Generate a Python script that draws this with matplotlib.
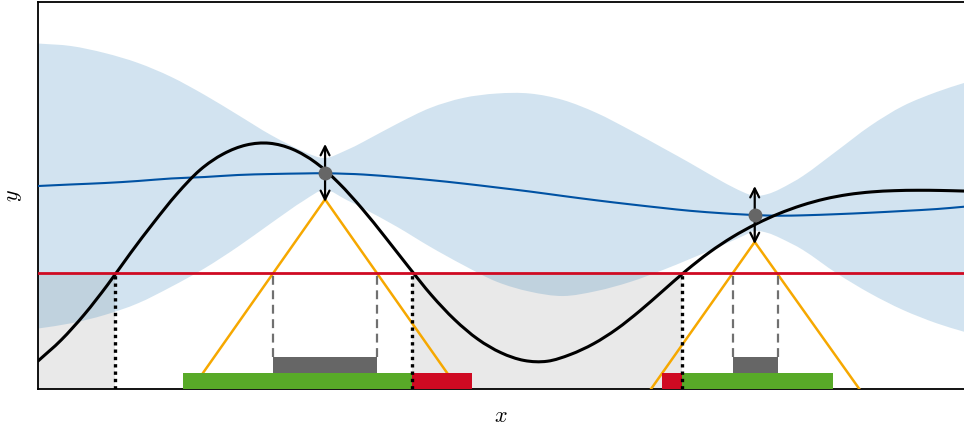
import matplotlib

matplotlib.use("Agg")
import matplotlib.pyplot as plt
from matplotlib.patches import PathPatch
from matplotlib.path import Path

plt.rcParams.update({"mathtext.fontset": "cm"})

BAND = "#1f77b4"
MEAN = "#0052a3"
TRUE = "black"
THR = "#cf0a22"
CONE = "#f6a800"
GOOD = "#58aa28"
BAD = "#cf0a22"
MID = "#666666"
SHADE = "#e9e9e9"

# true function f(x), read every 0.25
f_x = [0.0, 0.25, 0.5, 0.75, 1.0, 1.25, 1.5, 1.75, 2.0, 2.25, 2.5, 2.75, 3.0, 3.25, 3.5,
       3.75, 4.0, 4.25, 4.5, 4.75, 5.0, 5.25, 5.5, 5.75, 6.0, 6.25, 6.5, 6.75, 7.0, 7.25,
       7.5, 7.75, 8.0, 8.25, 8.5, 8.75, 9.0, 9.25, 9.5, 9.75, 10.0]
f_y = [0.289, 0.506, 0.770, 1.075, 1.406, 1.721, 2.016, 2.264, 2.429, 2.522, 2.540, 2.478,
       2.339, 2.127, 1.864, 1.569, 1.264, 0.969, 0.716, 0.515, 0.375, 0.295, 0.287, 0.357,
       0.468, 0.620, 0.808, 1.016, 1.224, 1.412, 1.571, 1.703, 1.812, 1.899, 1.965, 2.010,
       2.037, 2.050, 2.054, 2.052, 2.046]

# GP posterior: mean and band edges
gp_x = [0.000, 0.356, 0.720, 1.080, 1.440, 1.800, 2.160, 2.516, 2.880, 3.099, 3.334, 3.510,
        3.874, 4.233, 4.590, 4.953, 5.313, 5.670, 6.033, 6.393, 6.749, 7.041, 7.397, 7.613,
        7.743, 7.883, 8.013, 8.261, 8.625, 8.985, 9.341, 9.705, 10.0]
gp_mean = [2.098, 2.114, 2.129, 2.150, 2.176, 2.191, 2.212, 2.222, 2.228, 2.230, 2.224, 2.217,
           2.191, 2.160, 2.124, 2.083, 2.041, 1.995, 1.950, 1.909, 1.871, 1.842, 1.816, 1.804,
           1.798, 1.793, 1.791, 1.795, 1.807, 1.822, 1.840, 1.860, 1.884]
gp_upper = [3.571, 3.545, 3.473, 3.370, 3.225, 3.039, 2.832, 2.625, 2.450, 2.388, 2.470, 2.553,
            2.739, 2.904, 3.008, 3.054, 3.054, 2.987, 2.853, 2.677, 2.491, 2.336, 2.140, 2.036,
            1.995, 2.016, 2.067, 2.202, 2.460, 2.718, 2.925, 3.070, 3.163]
gp_lower = [0.625, 0.679, 0.765, 0.886, 1.057, 1.248, 1.471, 1.713, 1.953, 2.057, 1.953, 1.868,
            1.678, 1.471, 1.282, 1.109, 1.006, 0.961, 1.013, 1.106, 1.230, 1.344, 1.488, 1.581,
            1.633, 1.612, 1.561, 1.437, 1.196, 0.989, 0.817, 0.679, 0.592]

threshold = 1.2
crossings = [0.832, 4.039, 6.955]
below_spans = [(0.0, 0.832), (4.039, 6.955)]

# observations with noise arrows
obs_x = [3.10, 7.74]
obs_y = [2.233, 1.798]
noise = 0.30

# cones under each observation
cone_top = [1.96, 1.52]
cone_left = [1.66, 6.62]
cone_right = [4.54, 8.87]
gray_left = [2.54, 7.50]
gray_right = [3.66, 7.99]

# interval bars at the bottom: (start, end)
good_bars = [(1.566, 4.036), (6.955, 8.585)]
bad_bars = [(4.036, 4.687), (6.739, 6.955)]
bar_h = 0.165


def smooth(xs, ys, start=True):
    """Cubic Bezier segments through the points (Hermite tangents)."""
    n = len(xs)
    m = []
    for i in range(n):
        a, b = max(i - 1, 0), min(i + 1, n - 1)
        m.append((ys[b] - ys[a]) / (xs[b] - xs[a]))
    verts = [(xs[0], ys[0])]
    codes = [Path.MOVETO if start else Path.LINETO]
    for i in range(n - 1):
        h = xs[i + 1] - xs[i]
        verts += [(xs[i] + h / 3, ys[i] + m[i] * h / 3),
                  (xs[i + 1] - h / 3, ys[i + 1] - m[i + 1] * h / 3),
                  (xs[i + 1], ys[i + 1])]
        codes += [Path.CURVE4] * 3
    return verts, codes


def curve(ax, xs, ys, **kw):
    v, c = smooth(xs, ys)
    ax.add_patch(PathPatch(Path(v, c), fill=False, capstyle="round", **kw))


fig = plt.figure(figsize=(9.64, 4.25), dpi=100)
ax = fig.add_axes([38 / 964, 36 / 425, 1 - 38 / 964, 387 / 425])

for a, b in below_spans:
    ax.fill_between([a, b], 0, threshold, color=SHADE, lw=0, zorder=1)

v1, c1 = smooth(gp_x, gp_upper)
v2, c2 = smooth(gp_x[::-1], gp_lower[::-1], start=False)
band = Path(v1 + v2 + [v1[0]], c1 + c2 + [Path.CLOSEPOLY])
ax.add_patch(PathPatch(band, facecolor=BAND, alpha=0.2, lw=0, zorder=2))

curve(ax, gp_x, gp_mean, edgecolor=MEAN, lw=1.5, zorder=3)
curve(ax, f_x, f_y, edgecolor=TRUE, lw=2.2, zorder=4)

for xo, top, l, r in zip(obs_x, cone_top, cone_left, cone_right):
    ax.plot([l, xo, r], [0, top, 0], color=CONE, lw=1.8, zorder=4)

ax.axhline(threshold, color=THR, lw=2.0, zorder=5)

for gl, gr in zip(gray_left, gray_right):
    ax.bar(gl, bar_h, width=gr - gl, bottom=bar_h, align="edge", color=MID, zorder=6)
    for xv in (gl, gr):
        ax.plot([xv, xv], [2 * bar_h, threshold], color="#707070", lw=1.6,
                dashes=(4, 2.5), zorder=5)

for a, b in good_bars:
    ax.bar(a, bar_h, width=b - a, align="edge", color=GOOD, zorder=6)
for a, b in bad_bars:
    ax.bar(a, bar_h, width=b - a, align="edge", color=BAD, zorder=6)

for xc in crossings:
    ax.plot([xc, xc], [0, threshold], color="black", lw=2.4, dashes=(1, 1.2), zorder=7)

for xo, yo in zip(obs_x, obs_y):
    ax.annotate("", xy=(xo, yo + noise), xytext=(xo, yo - noise),
                arrowprops=dict(arrowstyle="<->", color="black", lw=1.6,
                                mutation_scale=16, shrinkA=0, shrinkB=0), zorder=8)
ax.plot(obs_x, obs_y, "o", color=MID, ms=9, zorder=9)

ax.set_xlim(0, 10)
ax.set_ylim(0, 4)
ax.set_xticks([])
ax.set_yticks([])
ax.spines["right"].set_visible(False)
for s in ("left", "top", "bottom"):
    ax.spines[s].set_linewidth(1.3)
ax.set_xlabel("$x$", fontsize=16, labelpad=12)
ax.set_ylabel("$y$", fontsize=16, labelpad=10)

fig.savefig("out.png", dpi=100)
